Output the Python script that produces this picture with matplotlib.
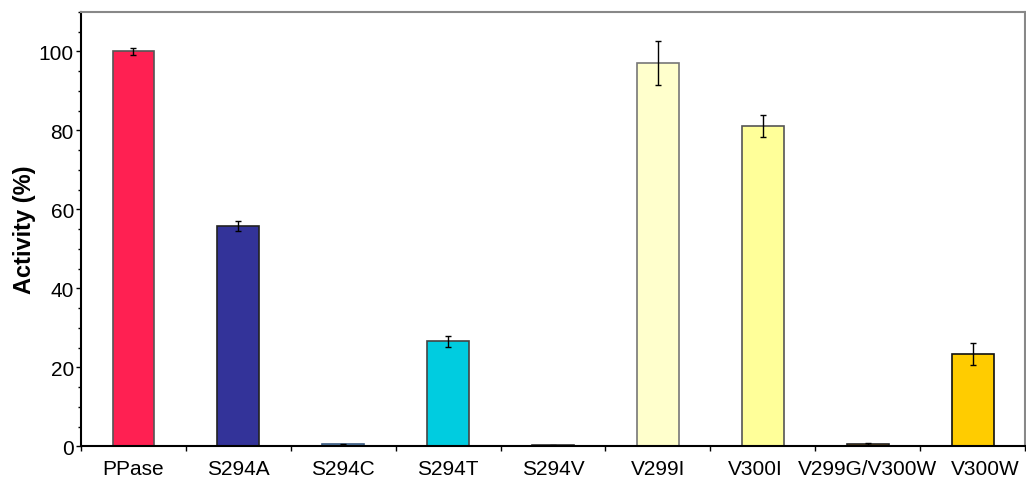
import numpy as np
import matplotlib
matplotlib.use("Agg")
from matplotlib import pyplot as plt
from matplotlib.ticker import MultipleLocator
from matplotlib.transforms import ScaledTranslation

plt.rcParams['font.family'] = ['Liberation Sans', 'DejaVu Sans']

# data
labels = ["PPase", "S294A", "S294C", "S294T", "S294V",
          "V299I", "V300I", "V299G/V300W", "V300W"]
activity = [100.0, 55.8, 0.5, 26.6, 0.3, 97.1, 81.1, 0.6, 23.3]
errors = [1.0, 1.3, 0.1, 1.4, 0.1, 5.6, 2.8, 0.2, 2.8]
colors = ["#FF2052", "#333399", "#8FC3F0", "#00CCE0", "#333366",
          "#FFFFCC", "#FFFF99", "#D98200", "#FFCC00"]
edges = ["#555555", "#222222", "#3A5A80", "#444444", "#333333",
         "#777777", "#555555", "#222222", "#111111"]
# horizontal nudge (pixels) of crowded tick labels
label_shift = [0, 0, 0, 0, 0, 0, -7, 0, 13]

fig, ax = plt.subplots(figsize=(10.26, 4.81), dpi=100)
fig.subplots_adjust(left=0.079, right=0.999, top=0.973, bottom=0.07)

x = np.arange(len(labels))
ax.bar(x, activity, width=0.4, color=colors, edgecolor=edges, linewidth=1.2,
       yerr=errors, error_kw=dict(ecolor="black", elinewidth=1, capsize=2.5, capthick=1))

ax.set_xlim(-0.5, len(labels) - 0.5)
ax.set_ylim(0, 110)
ax.set_xticks(x)
ax.set_xticklabels(labels, fontsize=15)
ax.set_xticks(np.arange(len(labels) + 1) - 0.5, minor=True)
ax.tick_params(axis="x", which="major", length=0, pad=9)
ax.tick_params(axis="x", which="minor", length=3.6, width=1, direction="out")
for lab, dx in zip(ax.get_xticklabels(), label_shift):
    if dx:
        lab.set_transform(lab.get_transform() + ScaledTranslation(dx / 100, 0, fig.dpi_scale_trans))

ax.yaxis.set_major_locator(MultipleLocator(20))
ax.yaxis.set_minor_locator(MultipleLocator(5))
ax.tick_params(axis="y", which="major", length=3.6, width=1, labelsize=15, pad=1.5)
ax.tick_params(axis="y", which="minor", length=2.2, width=1)
ax.set_ylabel("Activity (%)", fontsize=17, fontweight="bold", labelpad=2)

for side in ["left", "bottom"]:
    ax.spines[side].set_color("black")
    ax.spines[side].set_linewidth(1.5)
for side in ["top", "right"]:
    ax.spines[side].set_color("#888888")
    ax.spines[side].set_linewidth(1.5)

fig.savefig("out.png", dpi=100)
